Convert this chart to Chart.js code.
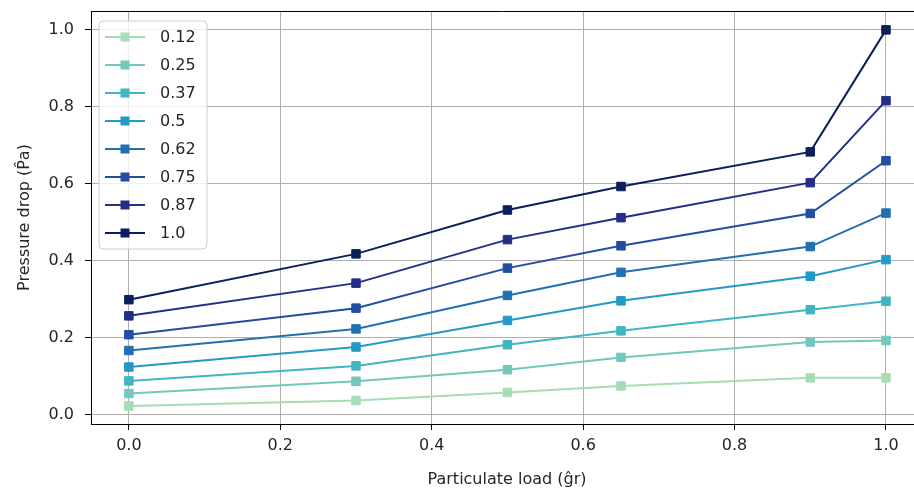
<!DOCTYPE html>
<html>
<head>
<meta charset="utf-8">
<script src="https://cdn.jsdelivr.net/npm/chart.js@4.4.1/dist/chart.umd.min.js"></script>
<style>
  html,body{margin:0;padding:0;background:#fff;overflow:hidden;}
  #wrap{width:914px;height:490px;}
</style>
</head>
<body>
<div id="wrap"><canvas id="pressureChart" width="914" height="490"></canvas></div>
<script>
// particulate load (x) and pressure drop per series
const xLoad=[0,0.3,0.5,0.65,0.9,1.0];
const seriesLabels=['0.12','0.25','0.37','0.5','0.62','0.75','0.87','1.0'];
const s012=[0.023,0.037,0.058,0.075,0.096,0.096];
const s025=[0.055,0.087,0.117,0.149,0.189,0.193];
const s037=[0.088,0.127,0.182,0.218,0.273,0.295];
const s050=[0.124,0.176,0.245,0.296,0.360,0.403];
const s062=[0.167,0.223,0.310,0.370,0.437,0.524];
const s075=[0.208,0.277,0.381,0.439,0.523,0.660];
const s087=[0.257,0.342,0.455,0.512,0.603,0.816];
const s100=[0.299,0.418,0.532,0.593,0.683,1.000];
const seriesValues=[s012,s025,s037,s050,s062,s075,s087,s100];
const seriesColors=['#a8dcb5','#72c8bd','#40b5c4','#2399c8','#2070b2','#234da0','#222e8a','#0a1f5b'];
const tickVals=[0,0.2,0.4,0.6,0.8,1.0];

const FONT='"DejaVu Sans", sans-serif';
const TXT='#262626';

const datasets=seriesLabels.map((lab,i)=>({
  label:lab,
  data:xLoad.map((x,j)=>({x,y:seriesValues[i][j]})),
  borderColor:seriesColors[i],backgroundColor:seriesColors[i],
  borderWidth:2,pointStyle:'rect',pointRadius:6,pointHoverRadius:6,pointBorderWidth:1,
  tension:0,fill:false
}));

// frame top edge + axis titles + legend inside the plot
const decor={
  id:'decor',
  afterDraw(chart){
    const {ctx,chartArea:a}=chart;
    ctx.save();
    ctx.strokeStyle='#000';ctx.lineWidth=1;
    ctx.beginPath();ctx.moveTo(a.left,a.top+0.5);ctx.lineTo(a.right,a.top+0.5);ctx.stroke();

    ctx.fillStyle=TXT;ctx.font='16px '+FONT;
    ctx.textAlign='center';ctx.textBaseline='middle';
    ctx.fillText('Particulate load (g\u0302r)',507,480);
    ctx.translate(25,(a.top+a.bottom)/2);ctx.rotate(-Math.PI/2);
    ctx.fillText('Pressure drop (P\u0302a)',0,0);
    ctx.restore();

    // legend
    const bx=a.left+8,by=a.top+10,bw=108,bh=228,r=4;
    ctx.save();
    ctx.beginPath();
    ctx.moveTo(bx+r,by);ctx.lineTo(bx+bw-r,by);ctx.quadraticCurveTo(bx+bw,by,bx+bw,by+r);
    ctx.lineTo(bx+bw,by+bh-r);ctx.quadraticCurveTo(bx+bw,by+bh,bx+bw-r,by+bh);
    ctx.lineTo(bx+r,by+bh);ctx.quadraticCurveTo(bx,by+bh,bx,by+bh-r);
    ctx.lineTo(bx,by+r);ctx.quadraticCurveTo(bx,by,bx+r,by);ctx.closePath();
    ctx.fillStyle='rgba(255,255,255,0.8)';ctx.fill();
    ctx.strokeStyle='#cccccc';ctx.lineWidth=1;ctx.stroke();
    chart.data.datasets.forEach((d,i)=>{
      const y=by+16+i*28;
      ctx.strokeStyle=d.borderColor;ctx.lineWidth=2;
      ctx.beginPath();ctx.moveTo(bx+6,y);ctx.lineTo(bx+46,y);ctx.stroke();
      ctx.fillStyle=d.backgroundColor;ctx.fillRect(bx+26-4.5,y-4.5,9,9);
      ctx.fillStyle=TXT;ctx.font='16px '+FONT;ctx.textAlign='left';ctx.textBaseline='middle';
      ctx.fillText(d.label,bx+61,y+1);
    });
    ctx.restore();
  }
};

const axisCommon={
  type:'linear',
  afterBuildTicks:s=>{s.ticks=tickVals.map(v=>({value:v}));},
  grid:{color:'#b0b0b0',lineWidth:1,tickColor:'#000',tickLength:6,drawTicks:true},
  border:{color:'#000',width:1},
  ticks:{color:TXT,font:{family:FONT,size:16},callback:v=>v.toFixed(1)}
};

new Chart(document.getElementById('pressureChart'),{
  type:'line',
  data:{datasets},
  options:{
    responsive:false,animation:false,devicePixelRatio:1,
    layout:{autoPadding:false,padding:{top:11,right:0,left:0,bottom:0}},
    plugins:{legend:{display:false},tooltip:{enabled:false}},
    scales:{
      x:{...axisCommon,min:-0.05,max:1.037,position:'bottom',
        ticks:{...axisCommon.ticks,padding:6,maxRotation:0},
        afterFit:s=>{s.height=66;s.paddingLeft=0;s.paddingRight=0;}},
      y:{...axisCommon,min:-0.024,max:1.049,position:'left',
        ticks:{...axisCommon.ticks,padding:11},
        afterFit:s=>{s.width=91;s.paddingTop=0;s.paddingBottom=0;}}
    }
  },
  plugins:[decor]
});
</script>
</body>
</html>
